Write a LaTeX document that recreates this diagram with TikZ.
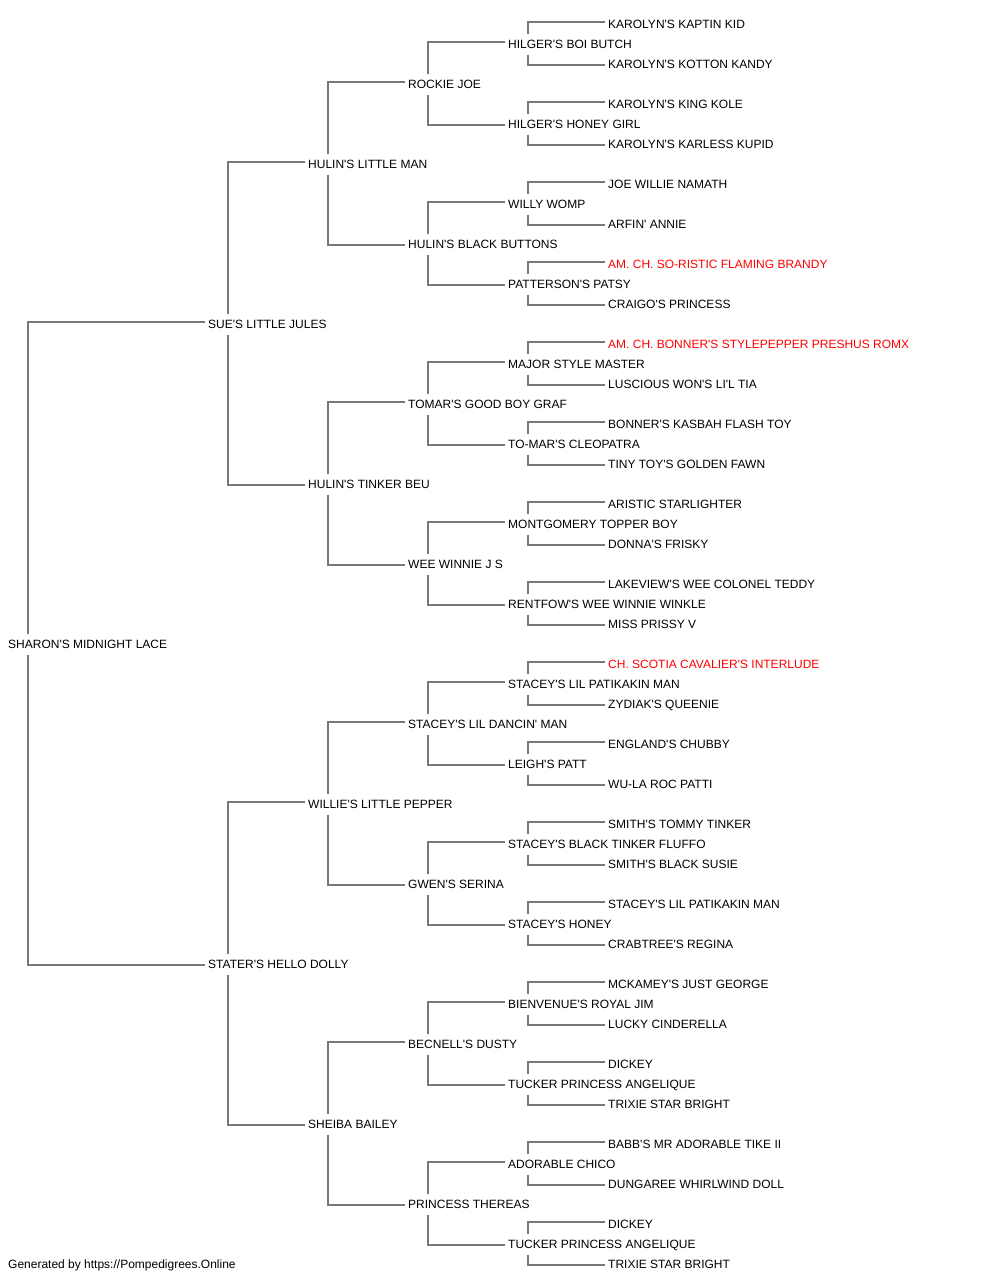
\documentclass[tikz,border=0pt]{standalone}
\usepackage{fontspec}
\setmainfont{Liberation Sans}[Ligatures=TeXOff]
\definecolor{linegray}{RGB}{120,120,120}
\definecolor{champred}{RGB}{255,0,0}
\tikzset{
  pname/.style={anchor=west, inner xsep=0pt, inner ysep=6pt, text height=8.6pt, text depth=0pt,
                font=\fontsize{12}{14}\selectfont, text=black},
  redname/.style={pname, text=champred},
  ln/.style={draw=linegray, line width=2pt},
}
\newcommand\kinlines[3]{%
  \draw[ln] ([xshift=20pt]#1.north west) |- ([shift={(-3pt,2pt)}]#2.west);
  \draw[ln] ([xshift=20pt]#1.south west) |- ([shift={(-3pt,-1pt)}]#3.west);
}
\begin{document}
\begin{tikzpicture}
\useasboundingbox (0,0) rectangle (1000pt,-1280pt);
% generation 0
\node[pname] (h1) at (8pt,-644pt) {SHARON'S MIDNIGHT LACE};
% generation 1
\node[pname] (h2) at (208pt,-324pt) {SUE'S LITTLE JULES};
\node[pname] (h3) at (208pt,-964pt) {STATER'S HELLO DOLLY};
% generation 2
\node[pname] (h4) at (308pt,-164pt) {HULIN'S LITTLE MAN};
\node[pname] (h5) at (308pt,-484pt) {HULIN'S TINKER BEU};
\node[pname] (h6) at (308pt,-804pt) {WILLIE'S LITTLE PEPPER};
\node[pname] (h7) at (308pt,-1124pt) {SHEIBA BAILEY};
% generation 3
\node[pname] (h8) at (408pt,-84pt) {ROCKIE JOE};
\node[pname] (h9) at (408pt,-244pt) {HULIN'S BLACK BUTTONS};
\node[pname] (h10) at (408pt,-404pt) {TOMAR'S GOOD BOY GRAF};
\node[pname] (h11) at (408pt,-564pt) {WEE WINNIE J S};
\node[pname] (h12) at (408pt,-724pt) {STACEY'S LIL DANCIN' MAN};
\node[pname] (h13) at (408pt,-884pt) {GWEN'S SERINA};
\node[pname] (h14) at (408pt,-1044pt) {BECNELL'S DUSTY};
\node[pname] (h15) at (408pt,-1204pt) {PRINCESS THEREAS};
% generation 4
\node[pname] (h16) at (508pt,-44pt) {HILGER'S BOI BUTCH};
\node[pname] (h17) at (508pt,-124pt) {HILGER'S HONEY GIRL};
\node[pname] (h18) at (508pt,-204pt) {WILLY WOMP};
\node[pname] (h19) at (508pt,-284pt) {PATTERSON'S PATSY};
\node[pname] (h20) at (508pt,-364pt) {MAJOR STYLE MASTER};
\node[pname] (h21) at (508pt,-444pt) {TO-MAR'S CLEOPATRA};
\node[pname] (h22) at (508pt,-524pt) {MONTGOMERY TOPPER BOY};
\node[pname] (h23) at (508pt,-604pt) {RENTFOW'S WEE WINNIE WINKLE};
\node[pname] (h24) at (508pt,-684pt) {STACEY'S LIL PATIKAKIN MAN};
\node[pname] (h25) at (508pt,-764pt) {LEIGH'S PATT};
\node[pname] (h26) at (508pt,-844pt) {STACEY'S BLACK TINKER FLUFFO};
\node[pname] (h27) at (508pt,-924pt) {STACEY'S HONEY};
\node[pname] (h28) at (508pt,-1004pt) {BIENVENUE'S ROYAL JIM};
\node[pname] (h29) at (508pt,-1084pt) {TUCKER PRINCESS ANGELIQUE};
\node[pname] (h30) at (508pt,-1164pt) {ADORABLE CHICO};
\node[pname] (h31) at (508pt,-1244pt) {TUCKER PRINCESS ANGELIQUE};
% generation 5
\node[pname] (h32) at (608pt,-24pt) {KAROLYN'S KAPTIN KID};
\node[pname] (h33) at (608pt,-64pt) {KAROLYN'S KOTTON KANDY};
\node[pname] (h34) at (608pt,-104pt) {KAROLYN'S KING KOLE};
\node[pname] (h35) at (608pt,-144pt) {KAROLYN'S KARLESS KUPID};
\node[pname] (h36) at (608pt,-184pt) {JOE WILLIE NAMATH};
\node[pname] (h37) at (608pt,-224pt) {ARFIN' ANNIE};
\node[redname] (h38) at (608pt,-264pt) {AM. CH. SO-RISTIC FLAMING BRANDY};
\node[pname] (h39) at (608pt,-304pt) {CRAIGO'S PRINCESS};
\node[redname] (h40) at (608pt,-344pt) {AM. CH. BONNER'S STYLEPEPPER PRESHUS ROMX};
\node[pname] (h41) at (608pt,-384pt) {LUSCIOUS WON'S LI'L TIA};
\node[pname] (h42) at (608pt,-424pt) {BONNER'S KASBAH FLASH TOY};
\node[pname] (h43) at (608pt,-464pt) {TINY TOY'S GOLDEN FAWN};
\node[pname] (h44) at (608pt,-504pt) {ARISTIC STARLIGHTER};
\node[pname] (h45) at (608pt,-544pt) {DONNA'S FRISKY};
\node[pname] (h46) at (608pt,-584pt) {LAKEVIEW'S WEE COLONEL TEDDY};
\node[pname] (h47) at (608pt,-624pt) {MISS PRISSY V};
\node[redname] (h48) at (608pt,-664pt) {CH. SCOTIA CAVALIER'S INTERLUDE};
\node[pname] (h49) at (608pt,-704pt) {ZYDIAK'S QUEENIE};
\node[pname] (h50) at (608pt,-744pt) {ENGLAND'S CHUBBY};
\node[pname] (h51) at (608pt,-784pt) {WU-LA ROC PATTI};
\node[pname] (h52) at (608pt,-824pt) {SMITH'S TOMMY TINKER};
\node[pname] (h53) at (608pt,-864pt) {SMITH'S BLACK SUSIE};
\node[pname] (h54) at (608pt,-904pt) {STACEY'S LIL PATIKAKIN MAN};
\node[pname] (h55) at (608pt,-944pt) {CRABTREE'S REGINA};
\node[pname] (h56) at (608pt,-984pt) {MCKAMEY'S JUST GEORGE};
\node[pname] (h57) at (608pt,-1024pt) {LUCKY CINDERELLA};
\node[pname] (h58) at (608pt,-1064pt) {DICKEY};
\node[pname] (h59) at (608pt,-1104pt) {TRIXIE STAR BRIGHT};
\node[pname] (h60) at (608pt,-1144pt) {BABB'S MR ADORABLE TIKE II};
\node[pname] (h61) at (608pt,-1184pt) {DUNGAREE WHIRLWIND DOLL};
\node[pname] (h62) at (608pt,-1224pt) {DICKEY};
\node[pname] (h63) at (608pt,-1264pt) {TRIXIE STAR BRIGHT};
% footer
\node[pname] (foot) at (8pt,-1264pt) {Generated by https://Pompedigrees.Online};
% connectors
\foreach \k in {1,...,31} {
  \pgfmathtruncatemacro\ca{2*\k}
  \pgfmathtruncatemacro\cb{2*\k+1}
  \kinlines{h\k}{h\ca}{h\cb}
}
\end{tikzpicture}
\end{document}
